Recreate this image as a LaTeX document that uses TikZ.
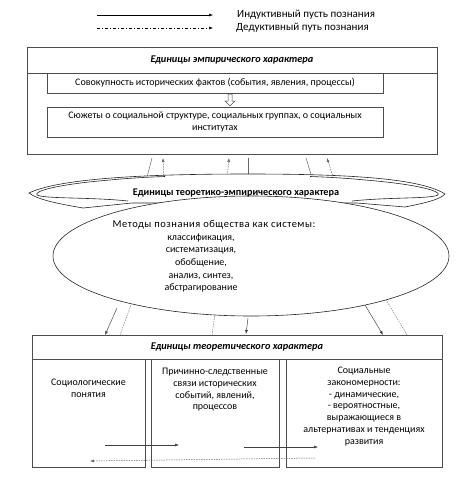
\documentclass[tikz,border=0pt]{standalone}
\usepackage{fontspec}
\setmainfont{Carlito}
\usetikzlibrary{arrows.meta,shapes.geometric}
\begin{document}
\begin{tikzpicture}[x=1pt,y=-1pt,
  box/.style={draw=black!70, line width=0.6pt, fill=white, inner sep=0pt, outer sep=0pt, anchor=north west, font=\fontsize{10}{11.7}\selectfont, align=center},
  txt/.style={font=\fontsize{10}{11.7}\selectfont, align=center, inner sep=0pt},
  hdr/.style={font=\fontsize{10.3}{11.7}\selectfont\bfseries\itshape},
  ind/.style={draw=black!75, line width=0.5pt, -{Latex[length=4pt,width=3pt]}},
  indline/.style={draw=black!60, line width=0.5pt},
  ded/.style={draw=black!60, line width=0.5pt, dash pattern=on 1.5pt off 1pt, -{Latex[length=4pt,width=3pt]}},
  dedline/.style={draw=black!50, line width=0.5pt, dash pattern=on 1.5pt off 1pt},
  legded/.style={draw=black, line width=0.5pt, dash pattern=on 3pt off 2pt on 1pt off 2pt, -{Latex[length=4pt,width=3pt]}},
  legtxt/.style={font=\fontsize{11}{13}\selectfont, inner sep=0pt, anchor=west},
  ribbon/.style={draw=black!85, line width=0.6pt, fill=white},
]
\useasboundingbox (0,0) rectangle (471,480);

% legend
\coordinate (l1a) at (97,15); \coordinate (l1b) at (213,15);
\coordinate (l2a) at (97,28); \coordinate (l2b) at (213,28);
\draw[ind, draw=black] (l1a) -- (l1b);
\draw[legded] (l2a) -- (l2b);
\node[legtxt] (l1t) at (237,15) {Индуктивный пусть познания};
\node[legtxt] (l2t) at (236,28) {Дедуктивный путь познания};

% connectors between empirical box and ribbon
\coordinate (s1a) at (152,158); \coordinate (s1b) at (146,181);
\coordinate (s2a) at (248,158); \coordinate (s2b) at (248,181);
\coordinate (s3a) at (306,158); \coordinate (s3b) at (313,181);
\coordinate (d1a) at (164,180); \coordinate (d1b) at (163,158);
\coordinate (d2a) at (227,180); \coordinate (d2b) at (229,158);
\coordinate (d3a) at (334,180); \coordinate (d3b) at (327,158);
\draw[indline] (s1a) -- (s1b);
\draw[indline] (s2a) -- (s2b);
\draw[indline] (s3a) -- (s3b);
\draw[ded] (d1a) -- (d1b);
\draw[ded] (d2a) -- (d2b);
\draw[ded] (d3a) -- (d3b);

% connectors between ellipse and theoretical box
\coordinate (t1a) at (117,308); \coordinate (t1b) at (105,335);
\coordinate (t2a) at (248,318); \coordinate (t2b) at (246,334);
\coordinate (t3a) at (362,300); \coordinate (t3b) at (383,335);
\coordinate (u1a) at (120,335); \coordinate (u1b) at (131,305);
\coordinate (u2a) at (212,335); \coordinate (u2b) at (215,314);
\coordinate (u3a) at (407,335); \coordinate (u3b) at (385,298);
\draw[ind] (t1a) -- (t1b);
\draw[ind] (t2a) -- (t2b);
\draw[ind] (t3a) -- (t3b);
\draw[dedline] (u1a) -- (u1b);
\draw[dedline] (u2a) -- (u2b);
\draw[dedline] (u3a) -- (u3b);

% empirical block
\node[box, minimum width=410pt, minimum height=107pt] (emp) at (27,47) {};
\node[box, hdr, minimum width=410pt, minimum height=26pt] (emph) at (27,47) {Единицы эмпирического характера};
\node[box, minimum width=336pt, minimum height=20pt] (f1) at (47,73) {Совокупность исторических фактов (события, явления, процессы)};
\node[box, minimum width=336pt, minimum height=30pt] (f2) at (47,107) {Сюжеты о социальной структуре, социальных группах, о социальных\\институтах};
\draw[draw=black!70, line width=0.5pt, fill=white] (f1.south) ++(13,1) -- ++(4,0) -- ++(0,7) -- ++(3,0) -- ++(-5,5) -- ++(-5,-5) -- ++(3,0) -- cycle;

% ribbon
\draw[ribbon] (29,193) .. controls (60,178) and (150,174) .. (248,174)
  .. controls (346,174) and (420,178) .. (445,194)
  .. controls (440,200) and (420,204) .. (405,207) -- (357,203) -- (132,203) -- (83,208)
  .. controls (60,204) and (38,200) .. (29,193) -- cycle;
\draw[ribbon, fill=none] (128,201) .. controls (90,197) and (45,199) .. (37,195)
  .. controls (33,191) and (60,184) .. (110,180) .. controls (130,178) and (150,177) .. (165,176.5);
\draw[ribbon, fill=none] (352,201) .. controls (390,197) and (430,199) .. (438,195)
  .. controls (442,191) and (415,184) .. (365,180) .. controls (345,178) and (325,177) .. (310,176.5);

% ellipse
\node[ellipse, draw=black!85, line width=0.6pt, fill=white, minimum width=396pt, minimum height=120pt, inner sep=0pt] (meth) at (251,256) {};
\node[font=\fontsize{10.2}{11}\selectfont\bfseries, inner sep=0pt] (sct) at (236,193) {Единицы теоретико-эмпирического характера};
\node[txt, font=\fontsize{10}{12.6}\selectfont] (mt) at (201,256.5) {\hspace*{26pt}{\fontsize{10.5}{12.6}\selectfont\addfontfeatures{LetterSpace=5}Методы познания общества как системы:}\\классификация,\\систематизация,\\обобщение,\\анализ, синтез,\\абстрагирование};

% theoretical block
\node[box, hdr, minimum width=410pt, minimum height=24pt] (th) at (32,335) {Единицы теоретического характера};
\node[box, minimum width=113pt, minimum height=108pt] (c1) at (32,359) {};
\node[box, minimum width=128pt, minimum height=108pt] (c2) at (151,359) {};
\node[box, minimum width=156pt, minimum height=108pt] (c3) at (286,359) {};
\node[txt] (c1t) at (88.5,388.5) {Социологические\\понятия};
\node[txt] (c2t) at (215,390) {Причинно-следственные\\связи исторических\\событий, явлений,\\процессов};
\node[txt] (c3t) at (364,406.5) {Социальные\\закономерности:\\- динамические,\\- вероятностные,\\выражающиеся в\\альтернативах и тенденциях\\развития};

\coordinate (a1a) at (105,445); \coordinate (a1b) at (179,445);
\coordinate (a2a) at (244,447); \coordinate (a2b) at (318,447);
\coordinate (a3a) at (315,458); \coordinate (a3b) at (90,461);
\draw[ind] (a1a) -- (a1b);
\draw[ind] (a2a) -- (a2b);
\draw[ded] (a3a) -- (a3b);
\end{tikzpicture}
\end{document}
